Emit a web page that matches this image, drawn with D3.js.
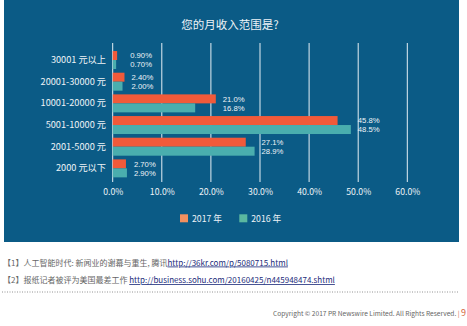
<!DOCTYPE html>
<html><head><meta charset="utf-8">
<script src="https://cdn.jsdelivr.net/npm/d3@7"></script>
<style>
html,body{margin:0;padding:0;background:#fff;}
svg{display:block;}
</style>
</head><body>
<svg id="c" width="467" height="326"></svg>
<script>
const title = "您的月收入范围是?";
const categories = ["30001 元以上","20001-30000 元","10001-20000 元","5001-10000 元","2001-5000 元","2000 元以下"];
const seriesNames = ["2017 年","2016 年"];
const values2017 = [0.9, 2.4, 21.0, 45.8, 27.1, 2.7];
const values2016 = [0.7, 2.0, 16.8, 48.5, 28.9, 2.9];
const labels2017 = ["0.90%","2.40%","21.0%","45.8%","27.1%","2.70%"];
const labels2016 = ["0.70%","2.00%","16.8%","48.5%","28.9%","2.90%"];
const ticks = [0,10,20,30,40,50,60];
const footnotes = [
  {pre:"【1】人工智能时代: 新闻业的谢幕与重生, 腾讯", link:"http://36kr.com/p/5080715.html"},
  {pre:"【2】报纸记者被评为美国最差工作 ", link:"http://business.sohu.com/20160425/n445948474.shtml"}
];
const copyright = "Copyright © 2017 PR Newswire Limited. All Rights Reserved.";
const pageNum = "9";

const svg = d3.select("#c");
const font = "'Noto Sans CJK SC','Liberation Sans',Arial,sans-serif";
const latin = "'Liberation Sans',Arial,sans-serif";
const txt = "#eef3f7";
const colors = ["#f15a3a","#4aaeae"];
const legendColors = ["#f2905f","#5ab8a0"];

// panel
svg.append("rect").attr("x",4).attr("y",0).attr("width",455).attr("height",242).attr("fill","#0b5b86");

svg.append("text").attr("x",230).attr("y",29).attr("text-anchor","middle")
  .attr("fill",txt).attr("font-family",font).attr("font-size",11.5).text(title);

const x = d3.scaleLinear().domain([0,60]).range([112.7,407.3]);
const y = d3.scaleBand().domain(categories).range([49.2,179.2]).paddingInner(0.17).paddingOuter(0.085);
const bh = y.bandwidth()/2;

// grid
svg.append("g").selectAll("line").data(ticks).join("line")
  .attr("x1",d=>x(d)).attr("x2",d=>x(d)).attr("y1",43).attr("y2",182)
  .attr("stroke","#e6f0f5").attr("stroke-width",1);

// x axis labels
const xAxis = d3.axisBottom(x).tickValues(ticks).tickFormat(d=>d.toFixed(1)+"%").tickSize(0).tickPadding(0);
const gx = svg.append("g").attr("transform","translate(0,188.5)").call(xAxis);
gx.select(".domain").remove();
gx.selectAll("text").attr("fill",txt).attr("font-family",font).attr("font-size",8.7).attr("dy","0.71em");

// y axis labels
const yAxis = d3.axisLeft(y).tickSize(0).tickPadding(0);
const gy = svg.append("g").attr("transform","translate(106,0)").call(yAxis);
gy.select(".domain").remove();
gy.selectAll("text").attr("fill",txt).attr("font-family",font).attr("font-size",9.2);

const rows = categories.map((c,i)=>({c,i,v:[values2017[i],values2016[i]],l:[labels2017[i],labels2016[i]]}));
[0,1].forEach(s=>{
  svg.append("g").selectAll("rect").data(rows).join("rect")
    .attr("x",x(0)).attr("y",d=>y(d.c)+s*bh)
    .attr("width",d=>x(d.v[s])-x(0)).attr("height",bh)
    .attr("fill",colors[s]);
});
[0,1].forEach(s=>{
  svg.append("g").selectAll("text").data(rows).join("text")
    .attr("x",d=>Math.max(x(d3.max(d.v))+7, x(0)+17.5))
    .attr("y",d=>y(d.c)+s*bh+bh/2).attr("dy","0.35em")
    .attr("fill",txt).attr("font-family",latin).attr("font-size",7.7).text(d=>d.l[s]);
});

// legend
const legX = [180,239.3];
seriesNames.forEach((n,i)=>{
  svg.append("rect").attr("x",legX[i]).attr("y",214.3).attr("width",8).attr("height",8).attr("fill",legendColors[i]);
  svg.append("text").attr("x",legX[i]+12).attr("y",218.5).attr("dy","0.35em")
    .attr("fill",txt).attr("font-family",font).attr("font-size",8.7).text(n);
});

// footnotes
footnotes.forEach((f,i)=>{
  const t = svg.append("text").attr("x",3).attr("y",265.5+i*17.5)
    .attr("font-family",font).attr("font-size",8).attr("fill","#666");
  t.append("tspan").text(f.pre);
  t.append("tspan").attr("fill","#1b2a7a").attr("text-decoration","underline").text(f.link);
});
svg.append("line").attr("x1",2).attr("x2",459).attr("y1",292).attr("y2",292)
  .attr("stroke","#777").attr("stroke-width",0.8).attr("stroke-dasharray","1,1.5");

const ct = svg.append("text").attr("x",466).attr("y",315.5).attr("text-anchor","end")
  .attr("font-family",font).attr("font-size",6.6).attr("fill","#666");
ct.append("tspan").text(copyright+"   ");
ct.append("tspan").attr("fill","#d4623a").text("| ");
ct.append("tspan").attr("fill","#d4623a").attr("font-size",9).text(pageNum);
</script>
</body></html>
